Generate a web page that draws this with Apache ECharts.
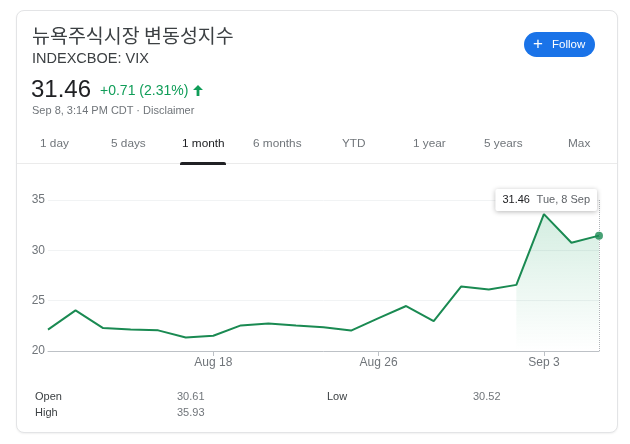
<!DOCTYPE html>
<html>
<head>
<meta charset="utf-8">
<script src="https://cdn.jsdelivr.net/npm/echarts@6/dist/echarts.min.js"></script>
<style>
  html, body { margin:0; padding:0; background:#fff; width:630px; height:444px; overflow:hidden; }
  body { font-family: "Liberation Sans", Arial, sans-serif; position:relative; }
  .card { position:absolute; left:16px; top:10px; width:600px; height:421px; border:1px solid #e3e4e6; border-radius:8px; box-shadow:0 1px 2px rgba(0,0,0,0.06); background:#fff; }
  .t { position:absolute; white-space:nowrap; z-index:3; }
  #chart { position:absolute; left:0; top:0; width:630px; height:444px; z-index:2; }
  .divider { position:absolute; left:17px; top:163px; width:600px; height:1px; background:#ebebeb; z-index:3; }
  .underline { position:absolute; left:180px; top:162px; width:46px; height:3px; background:#202124; border-radius:2px 2px 0 0; z-index:4; }
  .btn { position:absolute; left:524px; top:32px; width:71px; height:25px; border-radius:13px; background:#1a73e8; z-index:3; color:#fff; }
  .tab { position:absolute; top:135px; line-height:16px; font-size:11.8px; color:#70757a; white-space:nowrap; z-index:3; }
</style>
</head>
<body>
<div class="card"></div>
<div id="chart"></div>

<div class="t" style="left:32px; top:22px; line-height:26px; font-size:19.5px; color:#3c4043; font-family:'Noto Sans CJK KR', sans-serif;">뉴욕주식시장 변동성지수</div>
<div class="t" style="left:32px; top:49px; line-height:18px; font-size:14.5px; color:#3c4043;">INDEXCBOE: VIX</div>
<div class="t" style="left:31px; top:74.5px; line-height:28px; font-size:24px; color:#202124;">31.46</div>
<div class="t" style="left:100px; top:81px; line-height:18px; font-size:14px; color:#0f9d58;">+0.71 (2.31%) <svg width="10" height="11" viewBox="0 0 10 11" style="vertical-align:-1px; margin-left:1px;"><path d="M5 0 L10 5 L6.4 5 L6.4 11 L3.6 11 L3.6 5 L0 5 Z" fill="#0f9d58"/></svg></div>
<div class="t" style="left:32px; top:103px; line-height:14px; font-size:11px; color:#70757a;">Sep 8, 3:14 PM CDT · Disclaimer</div>

<div class="btn"><span style="position:absolute; left:9px; top:2px; font-size:17px; line-height:20px; font-weight:300;">+</span><span style="position:absolute; left:28px; top:5px; font-size:11.5px; line-height:15px;">Follow</span></div>

<div class="tab" style="left:40px;">1 day</div>
<div class="tab" style="left:111px;">5 days</div>
<div class="tab" style="left:182px; color:#202124;">1 month</div>
<div class="tab" style="left:253px;">6 months</div>
<div class="tab" style="left:342px;">YTD</div>
<div class="tab" style="left:413px;">1 year</div>
<div class="tab" style="left:484px;">5 years</div>
<div class="tab" style="left:568px;">Max</div>
<div class="divider"></div>
<div class="underline"></div>

<div class="t" style="left:35px; top:389px; line-height:14px; font-size:11px; color:#3c4043;">Open</div>
<div class="t" style="left:35px; top:405px; line-height:14px; font-size:11px; color:#3c4043;">High</div>
<div class="t" style="left:177px; top:389px; line-height:14px; font-size:11px; color:#70757a;">30.61</div>
<div class="t" style="left:177px; top:405px; line-height:14px; font-size:11px; color:#70757a;">35.93</div>
<div class="t" style="left:327px; top:389px; line-height:14px; font-size:11px; color:#3c4043;">Low</div>
<div class="t" style="left:473px; top:389px; line-height:14px; font-size:11px; color:#70757a;">30.52</div>

<script>
// ---- data ----
var categories = ['Aug 10','Aug 11','Aug 12','Aug 13','Aug 14','Aug 17','Aug 18','Aug 19','Aug 20','Aug 21',
                  'Aug 24','Aug 25','Aug 26','Aug 27','Aug 28','Aug 31','Sep 1','Sep 2','Sep 3','Sep 4','Sep 8'];
var values = [22.13,24.03,22.28,22.13,22.05,21.35,21.51,22.54,22.72,22.54,
              22.37,22.03,23.27,24.47,22.96,26.41,26.12,26.57,33.60,30.75,31.46];
var tickLabels = ['Aug 18','Aug 26','Sep 3'];
var yMin = 20, yMax = 35, yStep = 5;
var shadeFrom = 'Sep 2';
var tipValue = '31.46';
var tipDate = 'Tue, 8 Sep';

// ---- chart ----
var last = categories.length - 1;
var shadeIdx = categories.indexOf(shadeFrom);
var shadeData = values.map(function (v, i) { return i >= shadeIdx ? v : '-'; });
var dotData = values.map(function (v, i) { return i === last ? v : '-'; });
var green = '#1a8a52';
var font = 'Liberation Sans, Arial, sans-serif';

var chart = echarts.init(document.getElementById('chart'), null, { renderer: 'canvas' });
chart.setOption({
  animation: false,
  textStyle: { fontFamily: font },
  grid: { left: 48, right: 31, top: 200, bottom: 93 },
  xAxis: {
    type: 'category',
    data: categories,
    boundaryGap: false,
    axisLine: { lineStyle: { color: '#bdc1c6', width: 1 } },
    axisTick: { show: true, length: 5, lineStyle: { color: '#bdc1c6' },
                interval: function (i, v) { return tickLabels.indexOf(v) >= 0; } },
    axisLabel: { color: '#70757a', fontSize: 12, margin: 6,
                 interval: function (i, v) { return tickLabels.indexOf(v) >= 0; } },
    splitLine: { show: false }
  },
  yAxis: {
    type: 'value',
    min: yMin, max: yMax, interval: yStep,
    axisLine: { show: false },
    axisTick: { show: false },
    axisLabel: { color: '#70757a', fontSize: 12, margin: 3 },
    splitLine: { lineStyle: { color: '#f1f3f4', width: 1 } }
  },
  series: [
    {
      type: 'line',
      data: shadeData,
      z: 1,
      symbol: 'none',
      silent: true,
      lineStyle: { width: 0, opacity: 0 },
      areaStyle: {
        origin: 'start',
        color: new echarts.graphic.LinearGradient(0, 0, 0, 1, [
          { offset: 0, color: 'rgba(15,157,88,0.26)' },
          { offset: 0.5, color: 'rgba(15,157,88,0.12)' },
          { offset: 1, color: 'rgba(15,157,88,0.0)' }
        ])
      }
    },
    {
      type: 'line',
      data: values,
      z: 2,
      symbol: 'none',
      lineStyle: { color: green, width: 2 },
      markLine: {
        silent: true,
        symbol: ['none', 'none'],
        label: { show: false },
        lineStyle: { type: 'dotted', color: '#b0b4b8', width: 1 },
        data: [{ xAxis: last }]
      }
    },
    {
      type: 'scatter',
      data: dotData,
      z: 5,
      symbol: 'circle',
      symbolSize: 8,
      itemStyle: { color: green },
      markPoint: {
        silent: true,
        symbol: 'circle',
        symbolSize: 0,
        itemStyle: { color: 'rgba(0,0,0,0)' },
        data: [{ coord: [last, yMax] }],
        label: {
          show: true,
          position: 'left',
          distance: 2,
          formatter: '{v|' + tipValue + '}  {d|' + tipDate + '}',
          backgroundColor: '#fff',
          padding: [5, 7, 5, 7],
          borderRadius: 2,
          shadowBlur: 5,
          shadowOffsetY: 1,
          shadowColor: 'rgba(0,0,0,0.28)',
          rich: {
            v: { fontSize: 11, color: '#202124', fontFamily: font },
            d: { fontSize: 11, color: '#5f6368', fontFamily: font }
          }
        }
      }
    }
  ]
});
</script>
</body>
</html>
